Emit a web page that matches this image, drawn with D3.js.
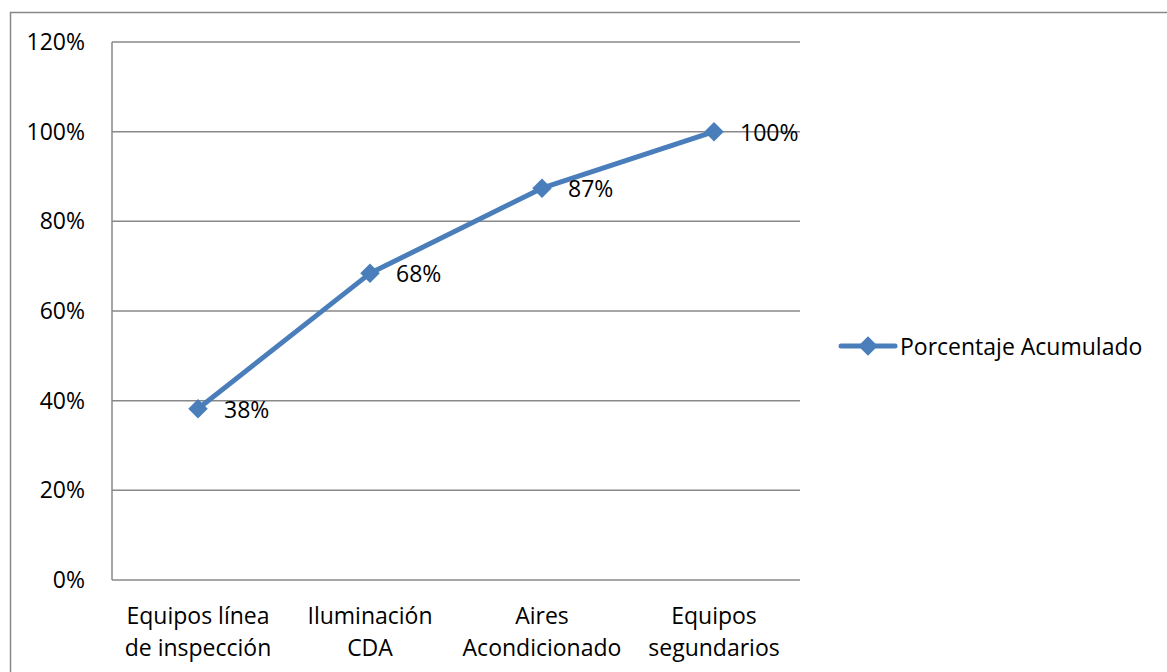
<!DOCTYPE html>
<html>
<head>
<meta charset="utf-8">
<script src="https://cdn.jsdelivr.net/npm/d3@7"></script>
<style>
  html, body { margin: 0; padding: 0; background: #fff; }
  svg { display: block; }
  text { font-family: "Open Sans", "Liberation Sans", Arial, sans-serif; fill: #000; }
</style>
</head>
<body>
<svg id="chart" width="1167" height="672"></svg>
<script>
// Cumulative share by equipment group
const categories = [
  ["Equipos línea", "de inspección"],
  ["Iluminación", "CDA"],
  ["Aires", "Acondicionado"],
  ["Equipos", "segundarios"]
];
const cumulative = [0.382, 0.684, 0.874, 1.0];
const yTicks = [0, 0.2, 0.4, 0.6, 0.8, 1.0, 1.2];
const seriesName = "Porcentaje Acumulado";

const W = 1167, H = 672;
const plot = { left: 112, right: 800, top: 42, bottom: 580 };
const blue = "#4A7EBB";
const gridColor = "#888888";
const fontSize = "23px";

const svg = d3.select("#chart");

// outer frame
svg.append("rect")
  .attr("x", 10.5).attr("y", 12.5)
  .attr("width", W).attr("height", H)
  .attr("fill", "none").attr("stroke", gridColor).attr("stroke-width", 1.5);

const x = d3.scaleBand()
  .domain(categories.map((d, i) => i))
  .range([plot.left, plot.right]);
const y = d3.scaleLinear().domain([0, 1.2]).range([plot.bottom, plot.top]);
const pct = d3.format(".0%");

// horizontal gridlines
svg.append("g")
  .selectAll("line")
  .data(yTicks)
  .join("line")
  .attr("x1", plot.left).attr("x2", plot.right)
  .attr("y1", d => y(d)).attr("y2", d => y(d))
  .attr("stroke", gridColor).attr("stroke-width", 1.5);

// vertical axis line
svg.append("line")
  .attr("x1", plot.left).attr("x2", plot.left)
  .attr("y1", plot.top).attr("y2", plot.bottom)
  .attr("stroke", gridColor).attr("stroke-width", 1.5);

// y tick labels
const yAxis = d3.axisLeft(y).tickValues(yTicks).tickFormat(pct).tickSize(0).tickPadding(27);
const gy = svg.append("g").attr("transform", `translate(${plot.left},0)`).call(yAxis);
gy.select(".domain").remove();
gy.selectAll("text")
  .style("font-family", "'Open Sans', 'Liberation Sans', Arial, sans-serif")
  .style("font-size", fontSize).attr("fill", "#000");

// x category labels (two lines each)
const xl = svg.append("g")
  .selectAll("text")
  .data(categories)
  .join("text")
  .attr("x", (d, i) => x(i) + x.bandwidth() / 2)
  .attr("y", 624)
  .attr("text-anchor", "middle")
  .style("font-size", fontSize);
xl.selectAll("tspan")
  .data(d => d)
  .join("tspan")
  .attr("x", function () { return this.parentNode.getAttribute("x"); })
  .attr("dy", (d, i) => i === 0 ? 0 : 32)
  .text(d => d);

// series line
const pts = cumulative.map((v, i) => [x(i) + x.bandwidth() / 2, y(v)]);
svg.append("path")
  .datum(pts)
  .attr("d", d3.line())
  .attr("fill", "none")
  .attr("stroke", blue)
  .attr("stroke-width", 5)
  .attr("stroke-linejoin", "round")
  .attr("stroke-linecap", "round");

// diamond markers
const diamond = d3.symbol().type(d3.symbolSquare).size(190);
svg.append("g")
  .selectAll("path")
  .data(pts)
  .join("path")
  .attr("d", diamond)
  .attr("transform", d => `translate(${d[0]},${d[1]}) rotate(45)`)
  .attr("fill", blue);

// value labels
svg.append("g")
  .selectAll("text")
  .data(cumulative)
  .join("text")
  .attr("x", (d, i) => x(i) + x.bandwidth() / 2 + 26)
  .attr("y", d => y(d) + 9)
  .style("font-size", fontSize)
  .text(d => pct(d));

// legend
const lg = svg.append("g").attr("transform", "translate(841,346)");
lg.append("line")
  .attr("x1", 0).attr("x2", 54)
  .attr("stroke", blue).attr("stroke-width", 5).attr("stroke-linecap", "round");
lg.append("path")
  .attr("d", diamond)
  .attr("transform", "translate(27,0) rotate(45)")
  .attr("fill", blue);
lg.append("text")
  .attr("x", 59).attr("y", 9)
  .style("font-size", fontSize)
  .text(seriesName);
</script>
</body>
</html>
